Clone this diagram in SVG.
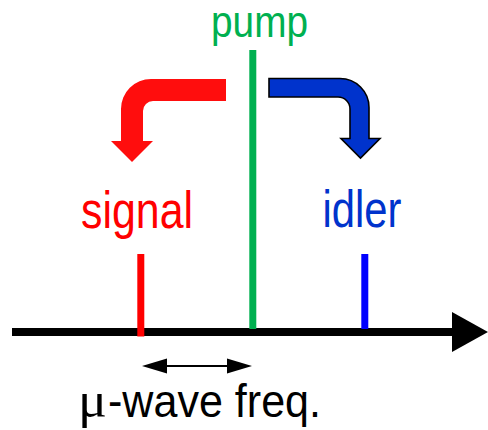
<svg xmlns="http://www.w3.org/2000/svg" width="488" height="430" viewBox="0 0 488 430">
<style>
.lbl{font-family:"Liberation Sans",Arial,sans-serif;}
.tick{stroke-width:7;fill:none;}
</style>
<rect width="488" height="430" fill="#ffffff"/>
<g id="axis">
<line x1="12" y1="332" x2="455" y2="332" stroke="#000" stroke-width="8"/>
<polygon points="452,312 488,332 452,352" fill="#000"/>
</g>
<g id="signal">
<line class="tick" x1="140.8" y1="254" x2="140.8" y2="336.5" stroke="#ff0000"/>
<text class="lbl" x="81" y="228" font-size="52" fill="#ff0000" textLength="112" lengthAdjust="spacingAndGlyphs">signal</text>
</g>
<g id="pump">
<line class="tick" x1="252.8" y1="50" x2="252.8" y2="329" stroke="#00b050"/>
<text class="lbl" x="211" y="37" font-size="45" fill="#00b050" textLength="97" lengthAdjust="spacingAndGlyphs">pump</text>
</g>
<g id="idler">
<line class="tick" x1="364.8" y1="254" x2="364.8" y2="329" stroke="#0000ff"/>
<text class="lbl" x="322.5" y="227" font-size="52" fill="#0033cc" textLength="79" lengthAdjust="spacingAndGlyphs">idler</text>
</g>
<g id="connectors">
<path d="M226,79 L151,79 A30,30 0 0 0 121,109 L121,141 L111,141 L132,162 L153,141 L143,141 L143,111 A10,10 0 0 1 153,101 L226,101 Z" fill="#ff0d0d"/>
<path d="M269,78.5 L340,78.5 A29,29 0 0 1 369,107.5 L369,138.5 L380,138.5 L360.5,158 L341,138.5 L350,138.5 L350,109 A12,12 0 0 0 338,97 L269,97 Z" fill="#0033cc" stroke="#000" stroke-width="1.6" stroke-linejoin="miter"/>
<line x1="160" y1="366" x2="234" y2="366" stroke="#000" stroke-width="2"/>
<polygon points="142,366 167,358.5 167,373.5" fill="#000"/>
<polygon points="252,366 227,358.5 227,373.5" fill="#000"/>
</g>
<g id="freq-label">
<text x="78" y="417" font-size="50" font-family="'Liberation Serif','Times New Roman',serif" fill="#000" textLength="29" lengthAdjust="spacingAndGlyphs">μ</text>
<text class="lbl" x="108" y="417" font-size="47" fill="#000" textLength="213" lengthAdjust="spacingAndGlyphs">-wave freq.</text>
</g>
</svg>
